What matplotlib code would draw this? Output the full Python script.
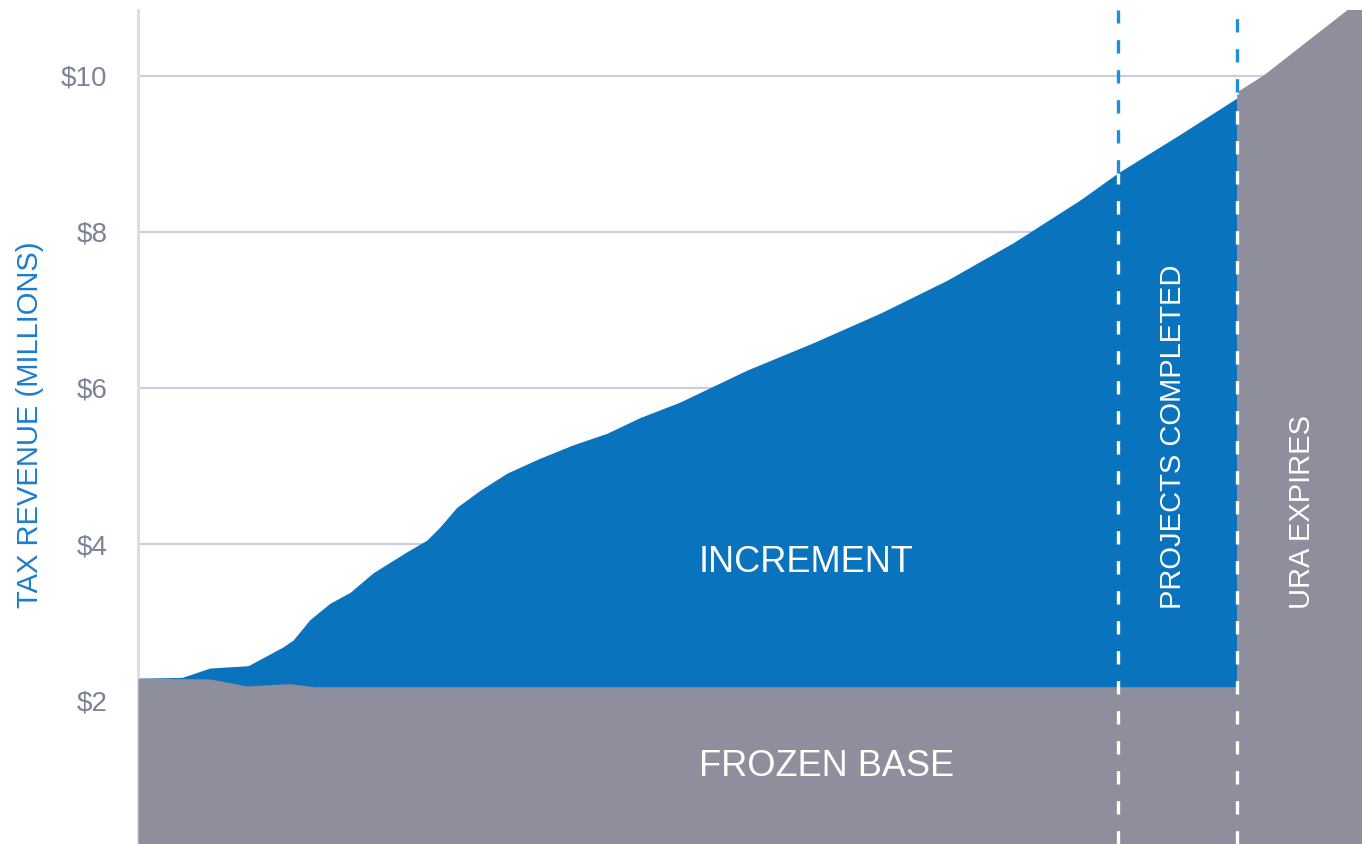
import matplotlib.pyplot as plt
import numpy as np

plt.rcParams['font.family'] = ['Liberation Sans', 'DejaVu Sans']

# total tax revenue (frozen base + increment), $ millions, by year
years = [0, 0.90, 1.47, 2.25, 2.96, 3.17, 3.51, 3.92, 4.33, 4.80, 5.49, 5.90,
         6.17, 6.51, 6.99, 7.54, 8.21, 8.88, 9.58, 10.25, 11.07, 12.44, 13.79,
         15.16, 16.52, 17.87, 19.24, 20.02, 21.28, 22.45]
total = [2.28, 2.29, 2.41, 2.44, 2.68, 2.77, 3.03, 3.24, 3.38, 3.63, 3.90, 4.05,
         4.22, 4.47, 4.69, 4.91, 5.10, 5.27, 5.42, 5.62, 5.82, 6.23, 6.58,
         6.96, 7.38, 7.86, 8.41, 8.76, 9.25, 9.72]

# frozen base
base_years = [0, 1.47, 2.23, 3.10, 3.60, 22.45]
base_vals = [2.28, 2.27, 2.18, 2.21, 2.17, 2.17]

# after the URA expires all revenue goes back to the base
post_years = [22.45, 23.0, 25.0]
post_vals = [9.79, 10.01, 10.99]

projects_done = 20.02
ura_expires = 22.45

yticks = [2, 4, 6, 8, 10]
ytick_labels = ['$2', '$4', '$6', '$8', '$10']

BLUE = '#0A73BE'
GRAY = '#8E8E9D'

fig = plt.figure(figsize=(13.62, 8.44), dpi=100)
ax = fig.add_axes([138 / 1362, 0, 1 - 138 / 1362, 834 / 844])

ax.fill_between(years, 0, total, color=BLUE, lw=0, zorder=2)
ax.fill_between(base_years, 0, base_vals, color=GRAY, lw=0, zorder=3)
ax.fill_between(post_years, 0, post_vals, color=GRAY, lw=0, zorder=3)

ylo, yhi = 0.154, 10.846
dash = (0, (4.0, 5.0))
for x, top in [(projects_done, np.interp(projects_done, years, total)),
               (ura_expires, post_vals[0])]:
    ax.plot([x, x], [ylo, top], color='white', lw=2.4, ls=dash, zorder=4)
    ax.plot([x, x], [top, yhi], color='#1E8FDA', lw=2.4, ls=dash, zorder=4)

ax.set_xlim(0, 25)
ax.set_ylim(ylo, yhi)
ax.set_yticks(yticks)
ax.set_yticklabels(ytick_labels, fontsize=20, color='#7D8397')
ax.tick_params(axis='y', length=0, pad=22)
ax.set_xticks([])
ax.grid(axis='y', color='#CDCDDE', lw=1.6, zorder=0)
ax.set_axisbelow(True)
for s in ['top', 'right', 'bottom']:
    ax.spines[s].set_visible(False)
ax.spines['left'].set_color('#D8DBE8')
ax.spines['left'].set_linewidth(2)

ax.text(13.64, 3.76, 'INCREMENT', color='white', fontsize=26,
        ha='center', va='center', zorder=5)
ax.text(14.07, 1.15, 'FROZEN BASE', color='white', fontsize=26,
        ha='center', va='center', zorder=5)
ax.text(21.14, 5.38, 'PROJECTS COMPLETED', color='white', fontsize=21,
        rotation=90, ha='center', va='center', zorder=5)
ax.text(23.77, 4.41, 'URA EXPIRES', color='white', fontsize=21,
        rotation=90, ha='center', va='center', zorder=5)

fig.text(30 / 1362, 1 - 425 / 844, 'TAX REVENUE (MILLIONS)', color='#1C7DD0',
         fontsize=21, rotation=90, ha='center', va='center')

fig.savefig('out.png', dpi=100)
